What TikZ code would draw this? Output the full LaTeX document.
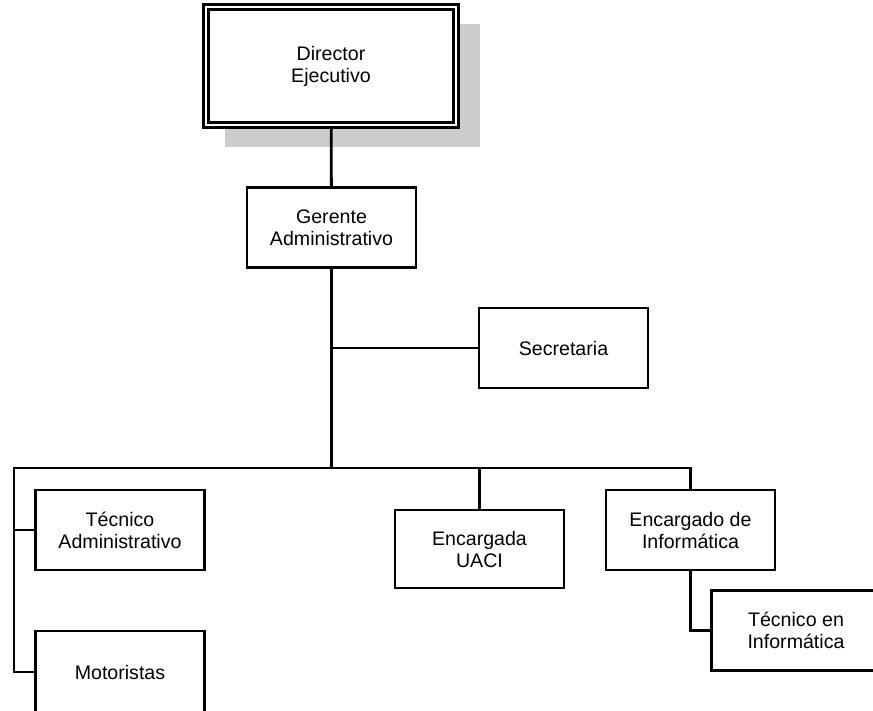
\documentclass[tikz,border=0pt]{standalone}
\usepackage{fontspec}
\setmainfont{Liberation Sans}
\begin{document}
\begin{tikzpicture}[x=0.5pt, y=-0.5pt, line width=1.4pt,
    box/.style={draw, fill=white, align=center, inner sep=0pt, minimum width=84.5pt, minimum height=40pt,
      font=\fontsize{9.8pt}{11pt}\selectfont},
    bigbox/.style={box, double, line width=1.3pt, double distance=1.3pt, minimum width=125pt, minimum height=59pt}]
    \clip (0, 0) rectangle (873, 711);
    \fill[black!20] (225, 24) rectangle (480, 147);
    \node[bigbox] (dir) at (331, 66) {Director\\Ejecutivo};
    \node[box] (ger) at (331.5, 227.5) {Gerente\\Administrativo};
    \node[box] (sec) at (563.5, 348) {Secretaria};
    \node[box] (tadm) at (120, 530) {T\'ecnico\\Administrativo};
    \node[box, minimum height=41pt] (mot) at (120, 672) {Motoristas};
    \node[box, minimum height=39pt] (uaci) at (479.5, 549) {Encargada\\UACI};
    \node[box] (einf) at (690.5, 530) {Encargado de\\Inform\'atica};
    \node[box] (tinf) at (796, 630.5) {T\'ecnico en\\Inform\'atica};
    \coordinate (hub) at (331.5, 468); \coordinate (lft) at (14, 468);
    \draw (dir) -- (ger); \draw (ger) -- (hub);
    \draw (sec.west) -- (sec.west -| ger.south);
    \draw (einf.north) |- (lft) |- (mot.west);
    \draw (tadm.west) -- (tadm.west -| lft);
    \draw (uaci.north) -- (uaci.north |- hub);
    \draw (einf.south) |- (tinf.west);
  \end{tikzpicture}
\end{document}
